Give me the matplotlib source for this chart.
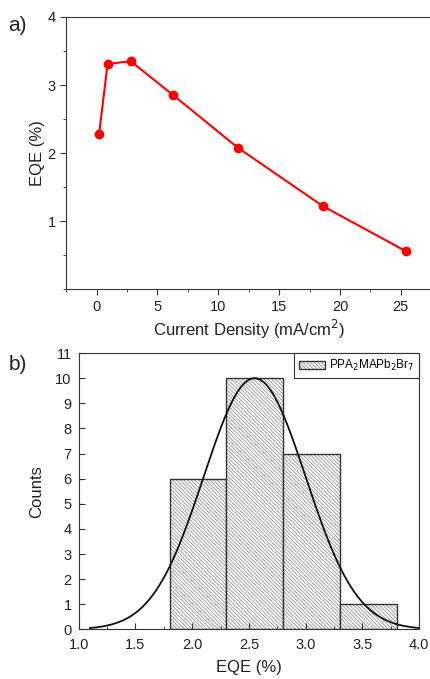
import numpy as np
import matplotlib.pyplot as plt
from matplotlib.colors import to_rgba
from matplotlib.ticker import MultipleLocator

plt.rcParams['font.family'] = ['Liberation Sans', 'DejaVu Sans']
plt.rcParams['hatch.linewidth'] = 0.7

# panel a : EQE vs current density
current_density = [0.2, 0.9, 2.8, 6.3, 11.6, 18.6, 25.4]
eqe = [2.28, 3.31, 3.35, 2.85, 2.08, 1.22, 0.56]

# panel b : histogram of EQE
bin_edges = [1.8, 2.3, 2.8, 3.3, 3.8]
counts = [6, 10, 7, 1]
# gaussian fit (amplitude, centre, width)
fit_amp, fit_mu, fit_sigma = 10.0, 2.55, 0.45

edge = '#333333'
fig = plt.figure(figsize=(4.30, 6.79), dpi=100)

# ---- a)
ax1 = fig.add_axes([0.154, 0.574, 0.849, 0.401])
ax1.plot(current_density, eqe, '-o', color='red', lw=1.5, ms=6)
ax1.set_xlim(-2.5, 27.5)
ax1.set_ylim(0, 4)
ax1.xaxis.set_major_locator(MultipleLocator(5))
ax1.xaxis.set_minor_locator(MultipleLocator(2.5))
ax1.set_yticks([1, 2, 3, 4])
ax1.yaxis.set_minor_locator(MultipleLocator(0.5))
ax1.tick_params(which='both', direction='out', colors=edge, labelcolor='#222222', labelsize=10.5)
ax1.tick_params(which='major', length=4)
ax1.tick_params(which='minor', length=2.5)
for s in ax1.spines.values():
    s.set_color(edge)
ax1.set_xlabel('Current Density (mA/cm$^2$)', fontsize=12, color='#222222', labelpad=3)
ax1.set_ylabel('EQE (%)', fontsize=12, color='#222222', labelpad=2)
fig.text(0.02, 0.955, 'a)', fontsize=15, color='#222222')

# ---- b)
ax2 = fig.add_axes([0.183, 0.073, 0.792, 0.407])
widths = np.diff(bin_edges)
bars = ax2.bar(bin_edges[:-1], counts, width=widths, align='edge', facecolor='white',
               edgecolor=edge, hatch='\\' * 9, lw=1.0, label='PPA$_2$MAPb$_2$Br$_7$')
for p in bars:
    p._hatch_color = to_rgba('#a0a0a0')
xs = np.linspace(1.1, 4.0, 300)
ax2.plot(xs, fit_amp * np.exp(-(xs - fit_mu) ** 2 / (2 * fit_sigma ** 2)), color='#111111', lw=1.3)
ax2.set_xlim(1, 4)
ax2.set_ylim(0, 11)
ax2.xaxis.set_major_locator(MultipleLocator(0.5))
ax2.xaxis.set_minor_locator(MultipleLocator(0.25))
ax2.yaxis.set_major_locator(MultipleLocator(1))
ax2.tick_params(which='both', direction='in', colors=edge, labelcolor='#222222', labelsize=10.5)
ax2.tick_params(which='major', length=4)
ax2.tick_params(which='minor', length=2.5)
ax2.tick_params(axis='x', pad=6)
ax2.tick_params(axis='y', pad=5)
for s in ax2.spines.values():
    s.set_color(edge)
ax2.set_xlabel('EQE (%)', fontsize=12, color='#222222', labelpad=6)
ax2.set_ylabel('Counts', fontsize=12, color='#222222', labelpad=8)
leg = ax2.legend(loc='upper right', fontsize=8.5, fancybox=False, framealpha=1,
                 edgecolor=edge, borderaxespad=0.0, handlelength=2.2, handletextpad=0.4)
leg.get_frame().set_linewidth(0.8)
fig.text(0.02, 0.455, 'b)', fontsize=15, color='#222222')

fig.savefig('out.png', dpi=100)
